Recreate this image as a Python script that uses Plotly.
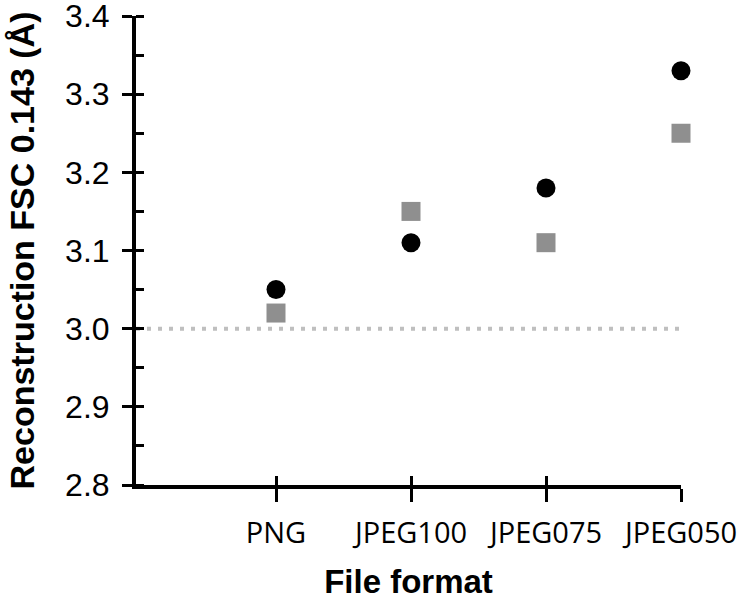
import plotly.graph_objects as go

categories = ["PNG", "JPEG100", "JPEG075", "JPEG050"]
series_circle = [3.05, 3.11, 3.18, 3.33]
series_square = [3.02, 3.15, 3.11, 3.25]
threshold = 3.0
y_ticks = [2.8, 2.9, 3.0, 3.1, 3.2, 3.3, 3.4]
y_tick_labels = ["2.8", "2.9", "3.0", "3.1", "3.2", "3.3", "3.4"]

xpos = list(range(len(categories)))
xr = [-1.037, len(categories) - 1]
yr = [2.8, 3.4]

fig = go.Figure()
fig.add_trace(go.Scatter(x=xpos, y=series_square, mode="markers", cliponaxis=False,
                         marker=dict(symbol="square", size=19, color="#8f8f8f"), showlegend=False))
fig.add_trace(go.Scatter(x=xpos, y=series_circle, mode="markers", cliponaxis=False,
                         marker=dict(symbol="circle", size=19, color="#000000"), showlegend=False))
# invisible trace to activate overlay axes (inside tick halves)
fig.add_trace(go.Scatter(x=[xpos[0]], y=[threshold], xaxis="x2", yaxis="y2", mode="markers",
                         marker=dict(opacity=0), hoverinfo="skip", showlegend=False))

fig.add_shape(type="line", xref="paper", x0=0, x1=1, yref="y", y0=threshold, y1=threshold,
              line=dict(color="#bfbfbf", width=4, dash="4px,7px"), layer="below")

tickfont_y = dict(family="Liberation Sans, Arial", size=32, color="#000000")
ytitlefont = dict(family="Liberation Sans, Arial", size=34, color="#000000", weight="bold")
xtitlefont = dict(family="Liberation Sans, Arial", size=33, color="#000000", weight="bold")

fig.update_layout(
    width=741, height=600,
    margin=dict(l=136, r=60, t=16, b=115, autoexpand=False),
    paper_bgcolor="white", plot_bgcolor="white",
    xaxis=dict(range=xr, tickmode="array", tickvals=xpos, ticktext=categories, automargin=False,
               showgrid=False, zeroline=False, showline=True, linecolor="black", linewidth=4,
               ticks="outside", ticklen=13, tickwidth=3, tickcolor="black",
               tickfont=dict(family="Open Sans", size=29, color="#000000"),
               ticklabelstandoff=6, ticklabeloverflow="allow",
               title=dict(text="File format", font=xtitlefont, standoff=35)),
    yaxis=dict(range=yr, tickmode="array", tickvals=y_ticks, ticktext=y_tick_labels, automargin=False,
               showgrid=False, zeroline=False, showline=True, linecolor="black", linewidth=4,
               ticks="outside", ticklen=10, tickwidth=3, tickcolor="black",
               minor=dict(dtick=0.05, ticks="inside", ticklen=8, tickwidth=3, tickcolor="black", showgrid=False),
               tickfont=tickfont_y, ticklabelstandoff=6, ticklabeloverflow="allow",
               title=dict(text="Reconstruction FSC 0.143 (Å)", font=ytitlefont, standoff=21)),
    xaxis2=dict(overlaying="x", anchor="y", side="bottom", range=xr, tickmode="array", tickvals=xpos,
                showticklabels=False, showgrid=False, zeroline=False, showline=False, automargin=False,
                ticks="inside", ticklen=9, tickwidth=3, tickcolor="black"),
    yaxis2=dict(overlaying="y", anchor="x", side="left", range=yr, tickmode="array", tickvals=y_ticks,
                showticklabels=False, showgrid=False, zeroline=False, showline=False, automargin=False,
                ticks="inside", ticklen=8, tickwidth=3, tickcolor="black"),
)

fig.write_html("out.html", config={"displayModeBar": False},
               post_script="document.body.style.margin='0px';")
